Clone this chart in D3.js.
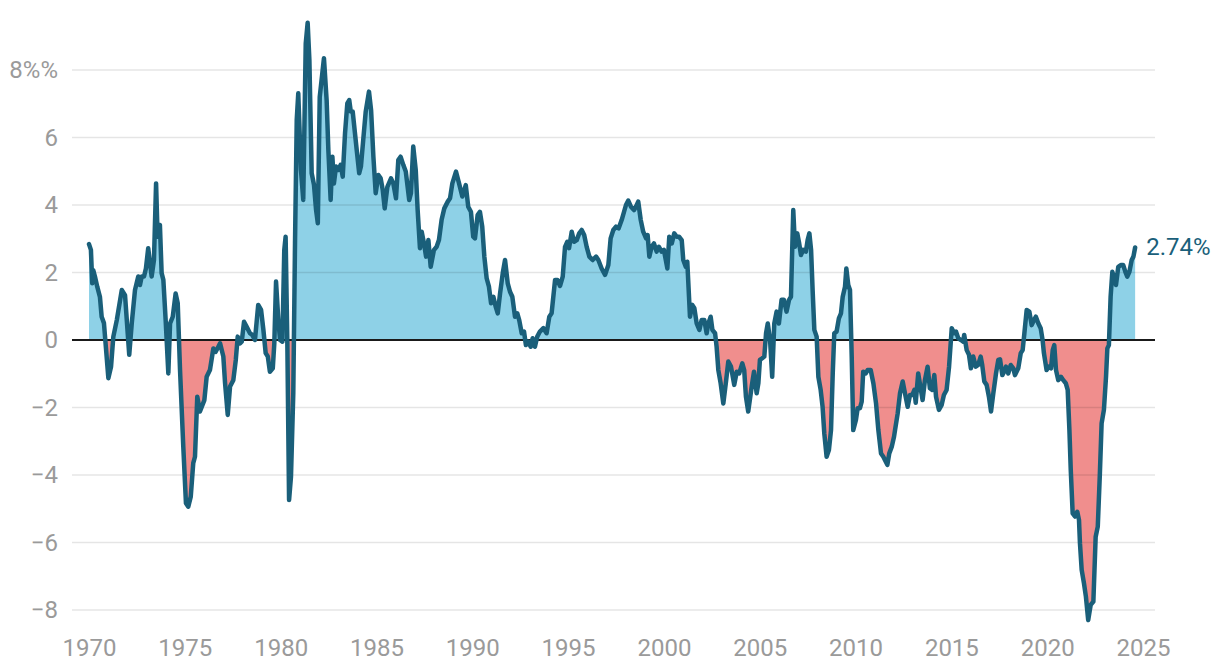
<!DOCTYPE html>
<html>
<head>
<meta charset="utf-8">
<script src="https://cdn.jsdelivr.net/npm/d3@7/dist/d3.min.js"></script>
<style>
  html, body { margin: 0; padding: 0; background: #fff; }
  svg { display: block; font-family: Roboto, "Noto Sans", sans-serif; }
</style>
</head>
<body>
<svg id="chart" width="1220" height="672"></svg>
<script>
// Decimal years (1970 = start of 1970)
const years = [
  1970.00,1970.10,1970.17,1970.22,1970.31,1970.43,1970.57,1970.66,1970.78,1971.01,
  1971.15,1971.27,1971.45,1971.71,1971.88,1972.10,1972.23,1972.40,1972.57,1972.66,
  1972.75,1972.87,1972.97,1973.09,1973.27,1973.39,1973.50,1973.58,1973.70,1973.79,
  1973.88,1974.00,1974.14,1974.23,1974.37,1974.52,1974.63,1974.75,1974.92,1975.06,
  1975.18,1975.31,1975.44,1975.53,1975.65,1975.79,1976.02,1976.14,1976.31,1976.49,
  1976.61,1976.75,1976.84,1977.01,1977.10,1977.24,1977.36,1977.53,1977.66,1977.76,
  1977.88,1977.97,1978.09,1978.23,1978.40,1978.52,1978.66,1978.83,1978.98,1979.10,
  1979.22,1979.33,1979.44,1979.59,1979.67,1979.76,1979.88,1979.97,1980.09,1980.19,
  1980.26,1980.35,1980.44,1980.54,1980.66,1980.75,1980.84,1980.92,1981.06,1981.18,
  1981.31,1981.41,1981.50,1981.62,1981.74,1981.85,1981.94,1982.04,1982.26,1982.40,
  1982.49,1982.61,1982.70,1982.78,1982.89,1983.01,1983.13,1983.24,1983.36,1983.48,
  1983.58,1983.66,1983.76,1983.97,1984.10,1984.19,1984.31,1984.44,1984.61,1984.72,
  1984.84,1984.96,1985.10,1985.22,1985.33,1985.43,1985.57,1985.76,1985.88,1986.02,
  1986.14,1986.26,1986.40,1986.53,1986.71,1986.80,1986.92,1987.05,1987.15,1987.27,
  1987.36,1987.48,1987.59,1987.71,1987.83,1988.00,1988.14,1988.26,1988.40,1988.54,
  1988.72,1988.84,1988.96,1989.15,1989.31,1989.48,1989.66,1989.79,1989.93,1990.05,
  1990.14,1990.28,1990.40,1990.52,1990.63,1990.75,1990.87,1990.98,1991.10,1991.22,
  1991.33,1991.45,1991.59,1991.71,1991.85,1991.97,1992.09,1992.23,1992.35,1992.45,
  1992.58,1992.70,1992.80,1992.92,1993.05,1993.15,1993.27,1993.39,1993.53,1993.71,
  1993.88,1994.02,1994.14,1994.32,1994.44,1994.58,1994.72,1994.84,1994.96,1995.05,
  1995.19,1995.31,1995.45,1995.58,1995.71,1995.84,1995.97,1996.11,1996.28,1996.46,
  1996.58,1996.75,1996.93,1997.10,1997.22,1997.36,1997.50,1997.64,1997.80,1997.92,
  1998.02,1998.14,1998.28,1998.44,1998.54,1998.66,1998.79,1998.92,1999.07,1999.15,
  1999.24,1999.36,1999.48,1999.62,1999.74,1999.88,2000.00,2000.18,2000.28,2000.41,
  2000.54,2000.67,2000.79,2000.93,2001.01,2001.14,2001.22,2001.31,2001.36,2001.48,
  2001.59,2001.71,2001.85,2001.97,2002.11,2002.23,2002.32,2002.44,2002.53,2002.67,
  2002.75,2002.84,2002.96,2003.10,2003.23,2003.36,2003.50,2003.67,2003.80,2003.93,
  2004.09,2004.19,2004.28,2004.40,2004.58,2004.70,2004.84,2004.93,2005.01,2005.13,
  2005.24,2005.33,2005.42,2005.54,2005.65,2005.76,2005.88,2006.00,2006.14,2006.26,
  2006.40,2006.53,2006.63,2006.75,2006.84,2006.96,2007.06,2007.15,2007.27,2007.41,
  2007.50,2007.59,2007.68,2007.76,2007.85,2007.97,2008.06,2008.18,2008.28,2008.37,
  2008.49,2008.61,2008.72,2008.81,2008.89,2009.01,2009.13,2009.24,2009.33,2009.45,
  2009.52,2009.62,2009.71,2009.80,2009.88,2010.02,2010.11,2010.23,2010.32,2010.40,
  2010.53,2010.63,2010.79,2010.93,2011.07,2011.19,2011.33,2011.45,2011.54,2011.66,
  2011.76,2011.89,2012.01,2012.06,2012.20,2012.32,2012.46,2012.58,2012.72,2012.84,
  2012.96,2013.07,2013.14,2013.27,2013.41,2013.50,2013.62,2013.76,2013.88,2014.00,
  2014.11,2014.20,2014.35,2014.49,2014.61,2014.75,2014.88,2015.02,2015.14,2015.24,
  2015.36,2015.50,2015.62,2015.67,2015.80,2015.92,2016.02,2016.14,2016.27,2016.40,
  2016.53,2016.61,2016.72,2016.84,2016.96,2017.07,2017.19,2017.33,2017.45,2017.54,
  2017.66,2017.80,2017.85,2017.97,2018.10,2018.23,2018.32,2018.49,2018.62,2018.72,
  2018.81,2018.93,2019.07,2019.19,2019.31,2019.41,2019.54,2019.66,2019.76,2019.83,
  2019.97,2020.09,2020.20,2020.29,2020.37,2020.46,2020.58,2020.72,2020.84,2020.97,
  2021.07,2021.16,2021.23,2021.33,2021.45,2021.57,2021.66,2021.71,2021.80,2021.92,
  2022.02,2022.14,2022.27,2022.41,2022.53,2022.64,2022.75,2022.84,2022.96,2023.07,
  2023.14,2023.22,2023.31,2023.40,2023.50,2023.59,2023.71,2023.84,2023.97,2024.08,
  2024.18,2024.29,2024.41,2024.50,2024.59
];
// Real rate, percent
const values = [
  2.84,2.67,1.68,2.07,1.88,1.58,1.28,0.69,0.50,-1.13,
  -0.79,0.10,0.59,1.48,1.33,-0.44,0.49,1.48,1.88,1.63,
  1.88,1.88,2.12,2.72,1.88,2.37,4.64,3.06,3.41,1.98,
  1.78,0.59,-0.99,0.49,0.69,1.38,1.09,-0.89,-3.16,-4.84,
  -4.94,-4.64,-3.65,-3.46,-1.68,-2.12,-1.78,-1.09,-0.89,-0.25,
  -0.35,-0.20,-0.10,-0.49,-1.28,-2.22,-1.38,-1.19,-0.59,0.10,
  -0.10,-0.05,0.54,0.39,0.20,0.15,0.00,1.04,0.89,0.30,
  -0.39,-0.49,-0.94,-0.84,-0.10,1.73,0.59,0.00,-0.05,2.67,
  3.06,-0.10,-4.74,-4.05,-1.58,2.86,6.52,7.31,5.04,4.15,
  8.79,9.40,8.30,4.94,4.60,3.85,3.46,7.20,8.35,7.11,
  5.63,4.15,5.43,4.64,5.14,5.04,5.19,4.84,6.12,7.01,
  7.11,6.77,6.77,5.63,4.94,5.14,5.93,6.77,7.36,6.81,
  5.43,4.35,4.89,4.79,4.44,3.90,4.54,4.79,4.64,4.20,
  5.33,5.43,5.19,4.99,4.15,4.35,5.73,5.04,3.85,2.72,
  3.21,2.86,2.47,2.96,2.17,2.67,2.76,2.96,3.56,3.90,
  4.10,4.20,4.64,4.99,4.64,4.25,4.59,3.95,3.80,3.06,
  3.01,3.70,3.80,3.36,2.47,1.83,1.58,1.09,1.28,0.99,
  0.79,1.38,1.98,2.37,1.68,1.43,1.28,0.69,0.79,0.59,
  0.20,0.25,-0.15,-0.05,-0.20,0.05,-0.20,0.10,0.25,0.35,
  0.20,0.69,0.79,1.78,1.78,1.60,1.88,2.76,2.91,2.72,
  3.21,2.91,2.96,3.16,3.26,3.11,2.76,2.47,2.37,2.47,
  2.37,2.12,1.93,2.22,3.01,3.26,3.36,3.31,3.56,3.80,
  4.00,4.13,3.95,3.85,3.95,4.10,3.56,3.21,3.01,3.11,
  2.47,2.76,2.86,2.62,2.76,2.62,2.67,2.12,3.06,2.86,
  3.16,3.06,3.06,2.96,2.37,2.17,2.32,1.28,0.69,1.04,
  0.94,0.49,0.30,0.59,0.59,0.20,0.49,0.69,0.30,0.20,
  -0.20,-0.89,-1.28,-1.88,-1.28,-0.64,-0.79,-1.33,-0.94,-0.99,
  -0.69,-0.89,-1.68,-2.12,-1.38,-0.94,-1.58,-1.28,-0.59,-0.54,
  -0.49,0.20,0.49,0.00,-1.09,0.49,0.84,0.49,1.19,1.19,
  0.84,1.19,1.28,3.85,2.76,3.16,2.86,2.52,2.67,2.62,
  2.96,3.16,2.67,1.48,0.30,0.10,-1.09,-1.48,-1.98,-2.77,
  -3.46,-3.26,-2.67,-0.99,0.20,0.25,0.64,0.79,1.28,1.58,
  2.12,1.63,1.48,-0.49,-2.67,-2.37,-2.02,-2.02,-1.83,-0.94,
  -0.99,-0.89,-0.89,-1.28,-1.88,-2.67,-3.36,-3.46,-3.56,-3.70,
  -3.36,-3.16,-2.86,-2.67,-2.17,-1.58,-1.23,-1.58,-1.98,-1.63,
  -1.63,-1.48,-1.86,-0.99,-1.48,-1.78,-1.19,-0.79,-1.43,-1.48,
  -1.04,-1.68,-2.07,-1.93,-1.63,-1.48,-0.79,0.35,0.20,0.25,
  0.05,0.00,-0.05,0.15,-0.30,-0.44,-0.84,-0.49,-0.79,-0.74,
  -0.49,-0.74,-1.23,-1.33,-1.68,-2.12,-1.58,-0.99,-0.59,-0.57,
  -1.04,-0.89,-0.79,-0.99,-0.74,-0.84,-1.04,-0.84,-0.39,-0.30,
  0.20,0.89,0.84,0.44,0.59,0.69,0.49,0.35,0.00,-0.39,
  -0.89,-0.79,-0.84,-0.30,-0.15,-0.89,-1.19,-1.09,-1.19,-1.28,
  -1.48,-2.67,-3.85,-5.14,-5.23,-5.09,-5.33,-6.02,-6.81,-7.21,
  -7.60,-8.30,-7.85,-7.75,-5.83,-5.53,-3.95,-2.47,-2.07,-1.09,
  -0.25,-0.15,1.28,2.02,1.83,1.63,2.17,2.22,2.22,2.02,
  1.88,2.02,2.37,2.47,2.74
];
const yTicks = [-8, -6, -4, -2, 0, 2, 4, 6, 8];
const yTickLabels = ["\u22128", "\u22126", "\u22124", "\u22122", "0", "2", "4", "6", "8%%"];
const xTicks = [1970, 1975, 1980, 1985, 1990, 1995, 2000, 2005, 2010, 2015, 2020, 2025];
const lastLabel = "2.74%";

const data = years.map((y, i) => ({ t: y, v: values[i] }));

const svg = d3.select("#chart");
const x = d3.scaleLinear().domain([1970, 2025]).range([89, 1143]);
const y = d3.scaleLinear().domain([-8, 8]).range([610, 70]);
const gridX0 = 72, gridX1 = 1155;

const LINE = "#1a5f7a";
const FS = 24;

// clip paths for positive/negative fills
const defs = svg.append("defs");
defs.append("clipPath").attr("id", "clipPos").append("rect")
  .attr("x", 0).attr("y", 0).attr("width", 1220).attr("height", y(0));
defs.append("clipPath").attr("id", "clipNeg").append("rect")
  .attr("x", 0).attr("y", y(0)).attr("width", 1220).attr("height", 672 - y(0));

const area = d3.area().x(d => x(d.t)).y0(y(0)).y1(d => y(d.v));
svg.append("path").datum(data).attr("d", area)
  .attr("fill", "#8ed1e7").attr("clip-path", "url(#clipPos)");
svg.append("path").datum(data).attr("d", area)
  .attr("fill", "#f08e8d").attr("clip-path", "url(#clipNeg)");

// grid
svg.append("g").selectAll("line").data(yTicks.filter(d => d !== 0)).join("line")
  .attr("x1", gridX0).attr("x2", gridX1)
  .attr("y1", d => y(d)).attr("y2", d => y(d))
  .attr("stroke", "rgba(0,0,0,0.1)").attr("stroke-width", 1.5);

// zero line
svg.append("line").attr("x1", gridX0).attr("x2", gridX1)
  .attr("y1", y(0)).attr("y2", y(0))
  .attr("stroke", "#1a1a1a").attr("stroke-width", 2);

// y labels
svg.append("g").selectAll("text").data(yTicks).join("text")
  .attr("x", 58).attr("y", d => y(d))
  .attr("dy", "0.35em").attr("text-anchor", "end")
  .attr("fill", "#9a9a9a").attr("font-size", FS)
  .text((d, i) => yTickLabels[i]);

// x axis labels via d3 axis
const xAxis = d3.axisBottom(x).tickValues(xTicks).tickFormat(d3.format("d")).tickSize(0).tickPadding(0);
const gx = svg.append("g").attr("transform", "translate(0,639)").call(xAxis);
gx.select(".domain").remove();
gx.selectAll("text").attr("fill", "#9a9a9a").attr("font-size", FS)
  .attr("font-family", "Roboto, sans-serif").attr("dy", "0.71em");

// line
const line = d3.line().x(d => x(d.t)).y(d => y(d.v));
svg.append("path").datum(data).attr("d", line)
  .attr("fill", "none").attr("stroke", LINE).attr("stroke-width", 4.5)
  .attr("stroke-linejoin", "round").attr("stroke-linecap", "round");

// end label
const last = data[data.length - 1];
svg.append("text").attr("x", x(last.t) + 11).attr("y", y(last.v) - 1)
  .attr("dy", "0.35em").attr("fill", LINE).attr("font-size", FS)
  .text(lastLabel);
</script>
</body>
</html>
